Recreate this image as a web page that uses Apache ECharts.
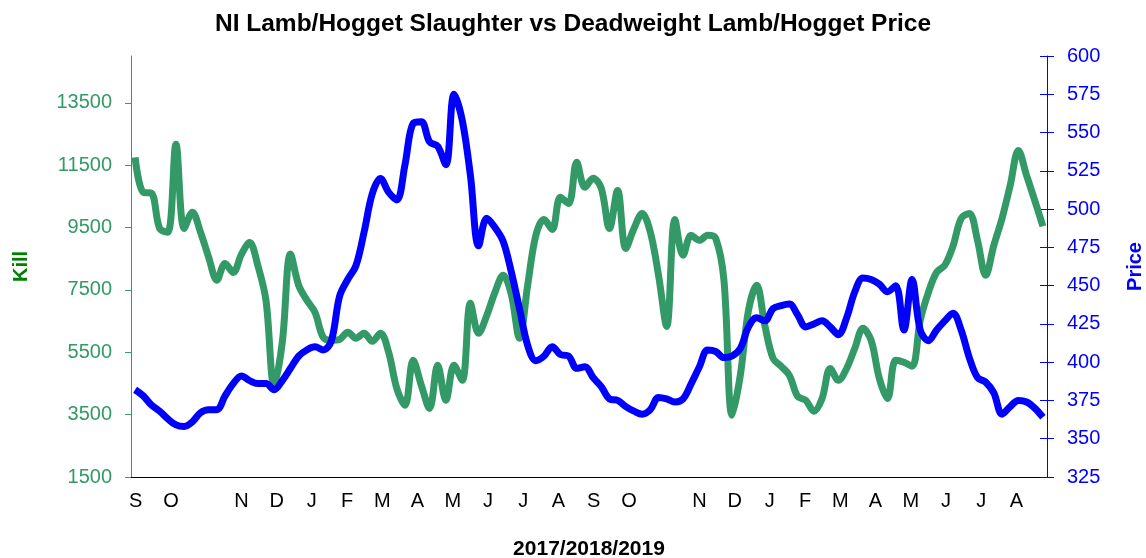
<!DOCTYPE html>
<html>
<head>
<meta charset="utf-8">
<script src="https://cdn.jsdelivr.net/npm/echarts@6/dist/echarts.min.js"></script>
<style>
  html, body { margin: 0; padding: 0; background: #fff; }
  #chart { width: 1146px; height: 558px; }
</style>
</head>
<body>
<div id="chart"></div>
<script>
// month letters along the x axis (one slot per month, blanks where the source shows none)
const monthLetters = ['S', 'O', '', 'N', 'D', 'J', 'F', 'M', 'A', 'M', 'J', 'J', 'A',
  'S', 'O', '', 'N', 'D', 'J', 'F', 'M', 'A', 'M', 'J', 'J', 'A'];
const killTicks = [1500, 3500, 5500, 7500, 9500, 11500, 13500];

// weekly kill (left axis)
const killData = [
  11750, 10630, 10600, 9470, 9350, 12170, 9470, 9990, 9350, 8540,
  7810, 8350, 8060, 8640, 9020, 8290, 7170, 4440, 5820, 8650,
  7650, 7170, 6780, 5980, 5880, 5910, 6140, 5950, 6110, 5850,
  6110, 5500, 4340, 3800, 5240, 4440, 3700, 5080, 3960, 5080,
  4600, 7070, 6110, 6680, 7420, 7970, 7360, 5950, 7650, 9250,
  9760, 9440, 10470, 10270, 11590, 10790, 11080, 10760, 9470, 10690,
  8830, 9470, 9950, 9350, 7970, 6330, 9760, 8610, 9250, 9090,
  9250, 9150, 7810, 3480, 4760, 6840, 7650, 6360, 5310, 5050,
  4760, 4090, 3960, 3610, 4020, 4980, 4600, 4980, 5630, 6270,
  5880, 4660, 4020, 5240, 5180, 5050, 6520, 7420, 8060, 8290,
  8900, 9790, 9950, 9090, 7970, 8930, 9790, 10850, 11970, 11170,
  10370, 9540
];

// weekly deadweight price (right axis)
const priceData = [
  382, 378, 372, 368, 363, 359, 358, 361, 367, 369,
  369, 378, 386, 391, 388, 386, 386, 382, 388, 396,
  404, 408, 410, 408, 414, 443, 454, 463, 485, 510,
  520, 511, 506, 529, 556, 557, 544, 541, 529, 575,
  558, 522, 476, 494, 488, 479, 459, 435, 411, 401,
  404, 410, 405, 404, 396, 397, 390, 384, 376, 375,
  371, 368, 366, 369, 377, 376, 374, 376, 386, 397,
  408, 407, 403, 404, 409, 423, 429, 427, 435, 437,
  438, 431, 423, 425, 427, 423, 418, 429, 446, 455,
  454, 451, 446, 450, 421, 454, 421, 414, 421, 427,
  432, 421, 403, 390, 387, 380, 366, 371, 375, 374,
  370, 364
];

const weeks = killData.map((_, i) => 'W' + (i + 1));
const labelShift = 0.133;
const monthPos = [];
monthLetters.forEach((m, k) => { if (m) monthPos.push(k + labelShift); });

const font = 'Liberation Sans';
const green = '#339966';
const blue = '#0000ff';

const chart = echarts.init(document.getElementById('chart'));

chart.setOption({
  animation: false,
  textStyle: { fontFamily: font },
  title: {
    text: 'NI Lamb/Hogget Slaughter vs Deadweight Lamb/Hogget Price',
    left: 'center',
    top: 7,
    textStyle: { fontSize: 24.5, fontWeight: 'bold', color: '#000', fontFamily: font }
  },
  grid: { left: 131, right: 99, top: 56, bottom: 81, outerBoundsMode: 'none', containLabel: false },
  xAxis: [
    {
      type: 'category',
      data: weeks,
      boundaryGap: true,
      position: 'bottom',
      axisLine: { lineStyle: { color: '#000', width: 1 } },
      axisTick: { show: false },
      axisLabel: { show: false },
      name: '2017/2018/2019',
      nameLocation: 'middle',
      nameGap: 62,
      nameTextStyle: { fontSize: 21, fontWeight: 'bold', color: '#000', fontFamily: font }
    },
    {
      type: 'value',
      min: 0,
      max: monthLetters.length,
      position: 'bottom',
      axisLine: { show: false },
      axisTick: { show: false },
      splitLine: { show: false },
      axisLabel: {
        customValues: monthPos,
        formatter: v => monthLetters[Math.round(v - labelShift)],
        margin: 14,
        color: '#000',
        fontSize: 20,
        fontFamily: font
      }
    }
  ],
  yAxis: [
    {
      type: 'value',
      position: 'left',
      min: 1500,
      max: 15000,
      axisLine: { show: true, lineStyle: { color: green } },
      axisTick: { show: true, customValues: killTicks, length: 6, lineStyle: { color: green } },
      axisLabel: {
        customValues: killTicks,
        formatter: v => String(v),
        color: green,
        fontSize: 20,
        fontFamily: font,
        margin: 19
      },
      splitLine: { show: false },
      name: 'Kill',
      nameLocation: 'middle',
      nameRotate: 90,
      nameGap: 100,
      nameTextStyle: { color: '#008000', fontWeight: 'bold', fontSize: 20, fontFamily: font }
    },
    {
      type: 'value',
      position: 'right',
      min: 325,
      max: 600,
      interval: 25,
      axisLine: { show: true, lineStyle: { color: blue } },
      axisTick: { show: true, length: 7, lineStyle: { color: blue } },
      axisLabel: { color: blue, fontSize: 20, fontFamily: font, margin: 20 },
      splitLine: { show: false },
      name: 'Price',
      nameLocation: 'middle',
      nameRotate: 90,
      nameGap: 78,
      nameTextStyle: { color: blue, fontWeight: 'bold', fontSize: 20, fontFamily: font }
    },
    {
      // inner half of the crossing ticks on the price axis
      type: 'value',
      position: 'right',
      min: 325,
      max: 600,
      interval: 25,
      axisLine: { show: false },
      axisTick: { show: true, inside: true, length: 7, lineStyle: { color: blue } },
      axisLabel: { show: false },
      splitLine: { show: false }
    }
  ],
  series: [
    {
      name: 'Kill',
      type: 'line',
      yAxisIndex: 0,
      data: killData,
      smooth: 0.35,
      showSymbol: false,
      lineStyle: { color: green, width: 7 },
      itemStyle: { color: green }
    },
    {
      name: 'Price',
      type: 'line',
      yAxisIndex: 1,
      data: priceData,
      smooth: 0.35,
      showSymbol: false,
      lineStyle: { color: blue, width: 7 },
      itemStyle: { color: blue }
    }
  ]
});
</script>
</body>
</html>
